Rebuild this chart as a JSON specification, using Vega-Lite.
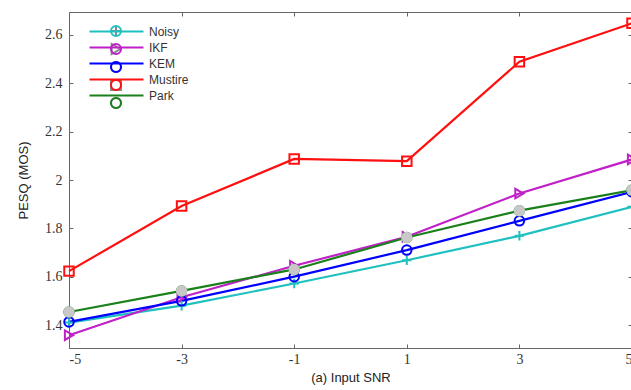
{
  "$schema": "https://vega.github.io/schema/vega-lite/v6.json",
  "width": 563,
  "height": 336,
  "autosize": {"type": "none"},
  "padding": {"left": 69, "top": 12, "right": 0, "bottom": 42},
  "background": "white",
  "config": {
    "view": {"stroke": null},
    "axis": {
      "grid": false,
      "domainColor": "#666666",
      "tickColor": "#666666",
      "domainWidth": 1,
      "tickWidth": 1,
      "labelFont": "Liberation Serif",
      "labelFontSize": 14,
      "labelColor": "#333333",
      "titleFont": "Liberation Sans",
      "titleFontSize": 13,
      "titleFontWeight": "normal",
      "titleColor": "#222222"
    },
    "legend": {
      "labelFont": "Liberation Sans",
      "labelFontSize": 12,
      "labelColor": "#333333"
    }
  },
  "data": {
    "values": [
      {"snr": -5, "series": "Noisy", "pesq": 1.41},
      {"snr": -3, "series": "Noisy", "pesq": 1.48},
      {"snr": -1, "series": "Noisy", "pesq": 1.572},
      {"snr": 1, "series": "Noisy", "pesq": 1.668},
      {"snr": 3, "series": "Noisy", "pesq": 1.769},
      {"snr": 5, "series": "Noisy", "pesq": 1.889},
      {"snr": -5, "series": "IKF", "pesq": 1.358},
      {"snr": -3, "series": "IKF", "pesq": 1.515},
      {"snr": -1, "series": "IKF", "pesq": 1.645},
      {"snr": 1, "series": "IKF", "pesq": 1.765},
      {"snr": 3, "series": "IKF", "pesq": 1.944},
      {"snr": 5, "series": "IKF", "pesq": 2.085},
      {"snr": -5, "series": "KEM", "pesq": 1.413},
      {"snr": -3, "series": "KEM", "pesq": 1.50},
      {"snr": -1, "series": "KEM", "pesq": 1.60},
      {"snr": 1, "series": "KEM", "pesq": 1.71},
      {"snr": 3, "series": "KEM", "pesq": 1.831},
      {"snr": 5, "series": "KEM", "pesq": 1.951},
      {"snr": -5, "series": "Mustire", "pesq": 1.623},
      {"snr": -3, "series": "Mustire", "pesq": 1.892},
      {"snr": -1, "series": "Mustire", "pesq": 2.087},
      {"snr": 1, "series": "Mustire", "pesq": 2.078},
      {"snr": 3, "series": "Mustire", "pesq": 2.489},
      {"snr": 5, "series": "Mustire", "pesq": 2.648},
      {"snr": -5, "series": "Park", "pesq": 1.454},
      {"snr": -3, "series": "Park", "pesq": 1.541},
      {"snr": -1, "series": "Park", "pesq": 1.63},
      {"snr": 1, "series": "Park", "pesq": 1.762},
      {"snr": 3, "series": "Park", "pesq": 1.873},
      {"snr": 5, "series": "Park", "pesq": 1.958}
    ]
  },
  "layer": [
    {
      "mark": {"type": "line", "strokeWidth": 2.2},
      "encoding": {
        "x": {
          "field": "snr", "type": "quantitative",
          "scale": {"domain": [-5, 5], "nice": false, "zero": false},
          "axis": {
            "orient": "bottom", "values": [-5, -3, -1, 1, 3, 5],
            "labelExpr": "'' + datum.value", "tickSize": -4, "labelPadding": 8,
            "title": "(a) Input SNR", "titlePadding": 5
          }
        },
        "y": {
          "field": "pesq", "type": "quantitative",
          "scale": {"domain": [1.305, 2.695], "nice": false, "zero": false},
          "axis": {
            "orient": "left", "values": [1.4, 1.6, 1.8, 2, 2.2, 2.4, 2.6],
            "format": "~g", "tickSize": -4, "labelPadding": 11,
            "title": "PESQ (MOS)", "titlePadding": 14
          }
        },
        "color": {
          "field": "series", "type": "nominal",
          "legend": {
            "orient": "none", "legendX": 19, "legendY": 13,
            "title": null, "padding": 0,
            "symbolType": "M-5.4,0H5.4",
            "symbolSize": 100, "symbolOffset": 22, "labelOffset": 26,
            "symbolStrokeWidth": 2.2, "rowPadding": 3
          }
        },
        "detail": {"field": "series"}
      }
    },
    {
      "mark": {"type": "point", "filled": false, "strokeWidth": 2, "size": 90, "opacity": 1},
      "encoding": {
        "x": {
          "field": "snr", "type": "quantitative",
          "axis": {"orient": "top", "values": [-5, -3, -1, 1, 3, 5], "labels": false, "tickSize": -4, "title": null}
        },
        "y": {
          "field": "pesq", "type": "quantitative",
          "axis": {"orient": "right", "values": [1.4, 1.6, 1.8, 2, 2.2, 2.4, 2.6], "labels": false, "tickSize": -4, "title": null}
        },
        "color": {
          "field": "series", "type": "nominal",
          "scale": {
            "domain": ["Noisy", "IKF", "KEM", "Mustire", "Park"],
            "range": ["#1fc0c0", "#c020c8", "#0000ff", "#ff1010", "#1a801a"]
          },
          "legend": {
            "orient": "none", "legendX": 19, "legendY": 13,
            "title": null, "padding": 0,
            "symbolSize": 100, "symbolOffset": 22, "labelOffset": 26,
            "symbolStrokeWidth": 2, "rowPadding": 0,
            "symbolFillColor": "white", "labelColor": "transparent"
          }
        },
        "shape": {
          "field": "series", "type": "nominal",
          "scale": {
            "domain": ["Noisy", "IKF", "KEM", "Mustire", "Park"],
            "range": ["M-1,0H1M0,-1V1", "triangle-right", "circle", "square", "circle"]
          },
          "legend": {
            "orient": "none", "legendX": 19, "legendY": 13,
            "title": null, "padding": 0,
            "symbolSize": 100, "symbolOffset": 22, "labelOffset": 26,
            "symbolStrokeWidth": 2, "rowPadding": 0,
            "symbolFillColor": "white", "labelColor": "transparent"
          }
        }
      }
    },
    {
      "transform": [{"filter": "datum.series === 'Park'"}],
      "mark": {"type": "circle", "color": "#c8c8c8", "size": 130, "opacity": 1},
      "encoding": {
        "x": {"field": "snr", "type": "quantitative", "axis": null},
        "y": {"field": "pesq", "type": "quantitative", "axis": null}
      }
    }
  ],
  "resolve": {
    "axis": {"x": "independent", "y": "independent"},
    "legend": {"color": "independent"}
  }
}
